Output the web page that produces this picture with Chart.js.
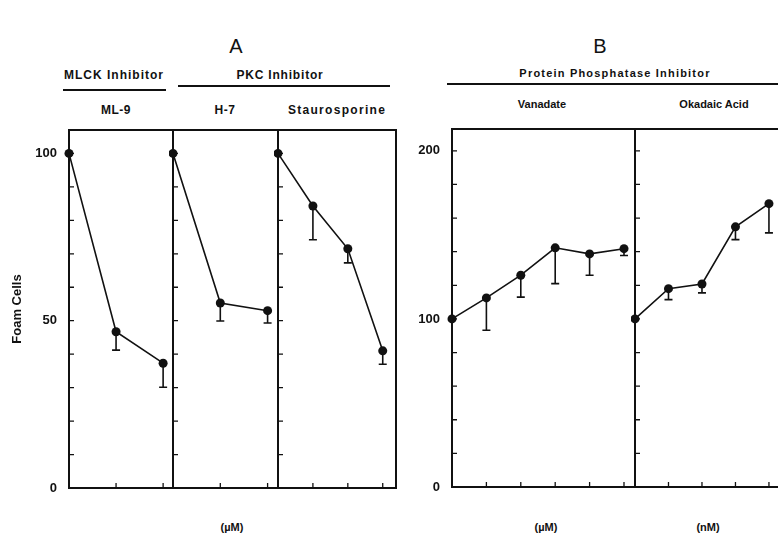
<!DOCTYPE html>
<html>
<head>
<meta charset="utf-8">
<script src="https://cdn.jsdelivr.net/npm/chart.js@4.4.1/dist/chart.umd.min.js"></script>
<style>
  body { margin: 0; background: #fff; width: 778px; height: 543px; overflow: hidden; position: relative;
         font-family: 'Liberation Sans', Arial, sans-serif; color: #111; }
  canvas { position: absolute; top: 0; }
  .lbl { position: absolute; transform: translate(-50%, -50%); white-space: nowrap; font-weight: bold; font-size: 11px; }
  .big { font-weight: normal; font-size: 20px; }
  .rule { position: absolute; height: 2px; background: #111; }
</style>
</head>
<body>
<div class="lbl big" style="left:236px;top:46px">A</div>
<div class="lbl big" style="left:600px;top:46px">B</div>

<div class="lbl" style="left:114px;top:75px;font-size:12px;letter-spacing:1px">MLCK Inhibitor</div>
<div class="rule" style="left:63px;top:89px;width:103px"></div>
<div class="lbl" style="left:280px;top:75px;font-size:12px;letter-spacing:0.8px">PKC Inhibitor</div>
<div class="rule" style="left:178px;top:85px;width:212px"></div>
<div class="lbl" style="left:116px;top:110px;font-size:12px;letter-spacing:0.5px">ML-9</div>
<div class="lbl" style="left:225px;top:110px;font-size:12px;letter-spacing:0.5px">H-7</div>
<div class="lbl" style="left:337px;top:110px;font-size:12px;letter-spacing:1.3px">Staurosporine</div>

<div class="lbl" style="left:615px;top:73px;letter-spacing:1.2px">Protein Phosphatase Inhibitor</div>
<div class="rule" style="left:447px;top:83px;width:331px"></div>
<div class="lbl" style="left:542px;top:104px">Vanadate</div>
<div class="lbl" style="left:714px;top:104px">Okadaic Acid</div>

<div class="lbl" style="left:232px;top:527px">(µM)</div>
<div class="lbl" style="left:546px;top:527px">(µM)</div>
<div class="lbl" style="left:708px;top:527px">(nM)</div>

<canvas id="ml9"></canvas>
<canvas id="h7"></canvas>
<canvas id="stauro"></canvas>
<canvas id="vanadate"></canvas>
<canvas id="okadaic"></canvas>

<script>
// foam cells (% of control); lows = lower end of error bar
const ml9Values = [100, 46.7, 37.3];
const ml9Lows = [null, 41.2, 30.1];
const h7Values = [100, 55.3, 53];
const h7Lows = [null, 49.9, 49.3];
const stauroValues = [100, 84.3, 71.5, 41];
const stauroLows = [null, 74.2, 67.3, 37];
const vanadateValues = [100, 112.5, 126, 142.3, 138.7, 141.8];
const vanadateLows = [null, 93.3, 113, 121, 126, 137.7];
const okadaicValues = [100, 118, 120.8, 154.8, 168.6];
const okadaicLows = [null, 111.5, 115.5, 147.2, 151.2];

const yTicksA = [0, 50, 100];
const yTicksB = [0, 100, 200];

const INK = '#111';
const PAGE_H = 543;

// frame, inward ticks and one-sided error bars
const panelDecor = {
  id: 'panelDecor',
  beforeDatasetsDraw(chart, args, opts) {
    const { ctx, scales: { x, y } } = chart;
    ctx.save();
    ctx.strokeStyle = INK;
    ctx.lineWidth = 1.6;
    opts.lows.forEach((lo, i) => {
      if (lo == null) return;
      const px = x.getPixelForValue(i);
      const top = y.getPixelForValue(opts.values[i]);
      const bot = y.getPixelForValue(lo);
      ctx.beginPath();
      ctx.moveTo(px, top); ctx.lineTo(px, bot);
      ctx.moveTo(px - 4, bot); ctx.lineTo(px + 4, bot);
      ctx.stroke();
    });
    ctx.restore();
  },
  afterDatasetsDraw(chart, args, opts) {
    const { ctx, chartArea: a, scales: { x, y } } = chart;
    ctx.save();
    ctx.strokeStyle = INK;
    ctx.lineWidth = 2;
    ctx.strokeRect(a.left, a.top, a.right - a.left, a.bottom - a.top);
    ctx.lineWidth = 1.3;
    ctx.beginPath();
    for (let v = 0; v <= y.max; v += opts.minor) {
      const py = y.getPixelForValue(v);
      ctx.moveTo(a.left, py); ctx.lineTo(a.left + 5, py);
    }
    for (let i = 1; i < opts.values.length; i++) {
      const px = x.getPixelForValue(i);
      ctx.moveTo(px, a.bottom); ctx.lineTo(px, a.bottom - 5);
    }
    ctx.stroke();
    ctx.restore();
  }
};

function makePanel(id, frame, xMax, yMax, values, lows, minor, yTicks, yTitle) {
  const padL = yTicks ? frame.axisW : 4;
  const padR = 4;
  const canvas = document.getElementById(id);
  canvas.width = frame.r - frame.l + padL + padR;
  canvas.height = PAGE_H;
  canvas.style.left = (frame.l - padL) + 'px';

  return new Chart(canvas, {
    type: 'line',
    data: {
      datasets: [{
        data: values.map((v, i) => ({ x: i, y: v })),
        borderColor: INK,
        borderWidth: 1.6,
        pointRadius: 4.5,
        pointBackgroundColor: INK,
        pointBorderWidth: 0,
        tension: 0,
        clip: false
      }]
    },
    options: {
      responsive: false,
      animation: false,
      layout: {
        autoPadding: false,
        padding: { top: frame.t, bottom: PAGE_H - frame.b, left: yTicks ? 0 : padL, right: padR }
      },
      plugins: {
        legend: { display: false },
        tooltip: { enabled: false },
        panelDecor: { values: values, lows: lows, minor: minor }
      },
      scales: {
        x: { type: 'linear', min: 0, max: xMax, display: false },
        y: {
          type: 'linear',
          min: 0,
          max: yMax,
          display: !!yTicks,
          grid: { display: false },
          border: { display: false },
          afterBuildTicks: s => { if (yTicks) s.ticks = yTicks.map(v => ({ value: v })); },
          afterFit: s => { if (yTicks) s.width = padL; },
          ticks: {
            color: INK,
            padding: 4,
            font: { family: "'Liberation Sans', Arial, sans-serif", size: 13, weight: 'bold' }
          },
          title: {
            display: !!yTitle,
            text: yTitle || '',
            color: INK,
            padding: { top: 10, bottom: 0 },
            font: { family: "'Liberation Sans', Arial, sans-serif", size: 13, weight: 'bold' }
          }
        }
      }
    },
    plugins: [panelDecor]
  });
}

makePanel('ml9', { l: 69, r: 173, t: 130, b: 488, axisW: 69 }, 2.21, 107, ml9Values, ml9Lows, 10, yTicksA, 'Foam Cells');
makePanel('h7', { l: 173, r: 278, t: 130, b: 488 }, 2.22, 107, h7Values, h7Lows, 10, null);
makePanel('stauro', { l: 278, r: 396, t: 130, b: 488 }, 3.38, 107, stauroValues, stauroLows, 10, null);
makePanel('vanadate', { l: 452, r: 635, t: 129, b: 487, axisW: 52 }, 5.32, 213, vanadateValues, vanadateLows, 20, yTicksB);
makePanel('okadaic', { l: 635, r: 780, t: 129, b: 487 }, 4.33, 213, okadaicValues, okadaicLows, 20, null);
</script>
</body>
</html>
